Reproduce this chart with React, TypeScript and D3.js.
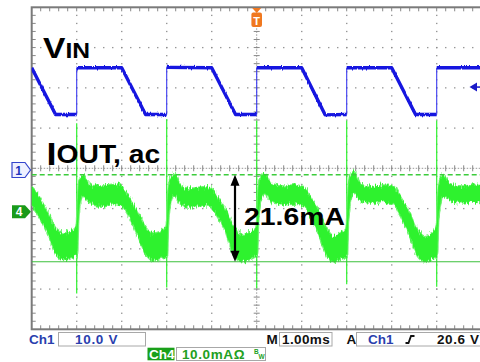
import React from "react";
import * as d3 from "d3";

// ---- Data ----
// Ch1 (VIN), volts, time in ms (1.00 ms/div)
const vinT = [0, 0.53, 1.0, 1.0, 2.0, 2.53, 3.0, 3.0, 4.0, 4.53, 5.0, 5.0, 6.0, 6.52, 7.0, 7.0, 8.0, 8.53, 9.0, 9.0, 10.0];
const vinV = [25.4, 13.8, 13.8, 25.4, 25.4, 13.8, 13.8, 25.5, 25.4, 13.8, 13.8, 25.4, 25.4, 13.7, 13.8, 25.4, 25.4, 13.8, 13.8, 25.4, 25.4];

// Ch4 (IOUT ac), mA: upper and lower edges of the noise band
const ioutT = [
  0, 0.12, 0.33, 0.56, 0.7, 0.85, 0.98,
  1.01, 1.03, 1.07, 1.14, 1.23, 1.36, 1.56, 1.78, 2.0, 2.12, 2.33, 2.56, 2.7, 2.85, 2.98,
  3.01, 3.03, 3.08, 3.18, 3.27, 3.4, 3.6, 3.8, 3.97, 4.1, 4.3, 4.52, 4.68, 4.84, 4.98,
  5.01, 5.03, 5.08, 5.18, 5.28, 5.42, 5.62, 5.82, 6.04, 6.16, 6.36, 6.58, 6.7, 6.85, 6.98,
  7.01, 7.03, 7.08, 7.16, 7.26, 7.4, 7.6, 7.82, 8.04, 8.16, 8.36, 8.58, 8.72, 8.86, 8.98,
  9.01, 9.03, 9.08, 9.15, 9.25, 9.4, 9.6, 9.8, 10.0,
];
const ioutHi = [
  5.9, 4.4, 0.2, -4.6, -5.4, -5.0, -4.0,
  -2.0, 4.0, 8.0, 9.0, 7.5, 6.4, 6.3, 6.7, 6.2, 4.3, 0.3, -4.2, -5.4, -5.0, -4.1,
  -2.0, 4.2, 8.2, 9.4, 7.4, 5.9, 5.8, 6.1, 5.9, 4.0, 0.6, -4.5, -5.8, -5.2, -4.2,
  -2.2, 4.0, 8.3, 9.4, 7.6, 6.4, 6.3, 6.6, 6.2, 4.2, 0.4, -4.8, -6.0, -5.4, -4.2,
  -2.0, 4.4, 8.8, 9.9, 7.8, 6.4, 6.2, 6.5, 6.2, 4.2, 0.4, -4.8, -6.1, -5.6, -4.4,
  -2.0, 4.0, 8.0, 8.9, 7.4, 6.4, 6.3, 6.5, 6.4,
];
const ioutLo = [
  2.0, -0.2, -4.5, -10.8, -12.0, -11.6, -11.0,
  -10.5, -3.0, 2.0, 4.0, 3.0, 1.8, 1.5, 2.0, 1.6, -0.2, -5.0, -10.8, -12.1, -11.5, -11.0,
  -10.6, -3.2, 2.2, 4.4, 2.6, 1.3, 1.3, 1.6, 1.4, -0.6, -4.6, -11.2, -12.3, -11.8, -11.0,
  -10.8, -3.0, 2.4, 4.6, 3.2, 1.9, 1.8, 2.0, 1.7, -0.4, -5.0, -11.2, -12.3, -11.8, -11.0,
  -10.6, -2.8, 2.6, 4.8, 3.4, 2.4, 2.2, 2.4, 2.0, -0.2, -4.8, -11.0, -12.3, -11.9, -11.2,
  -10.5, -3.0, 2.0, 4.2, 3.2, 2.4, 2.3, 2.5, 2.4,
];
// switching spikes on Ch4
const spikeT = [1, 3, 5, 7, 9];
const spikeHi = [22.0, 23.0, 22.7, 22.7, 22.7];
const spikeLo = [-20.3, -18.8, -19.0, -18.0, -18.6];

// cursors (mA) and trigger level (V)
const cursorTop = 9.2;
const cursorBottom = -12.4;
const triggerLevel = 20.6;
const deltaLabel = "21.6mA";

// status bar texts
const ch1Scale = "10.0 V";
const ch4Scale = "10.0mAΩ";
const timeBase = "1.00ms";
const trigText = "20.6 V";

// ---- Geometry ----
const X0 = 31.7, X1 = 481.7, Y0 = 7.3, Y1 = 329.3;
const x = d3.scaleLinear().domain([0, 10]).range([X0, X1]);
const yDiv = d3.scaleLinear().domain([-4, 4]).range([Y1, Y0]);
const ch1Pos = -0.042;
const ch4Pos = -1.08;
const yV = (v: number) => yDiv(v / 10 + ch1Pos);
const yI = (i: number) => yDiv(i / 10 + ch4Pos);

const FONT = "'Liberation Sans', Arial, sans-serif";
const GREEN = "#2ef22e";
const BLUE = "#1414e0";

function Grid() {
  const els: React.ReactNode[] = [];
  const dotColor = "#8c8c8c";
  for (let i = 1; i < 10; i++) {
    if (i === 5) continue;
    for (let k = 1; k < 40; k++) {
      els.push(<rect key={`vd${i}-${k}`} x={x(i) - 0.6} y={yDiv(k / 5 - 4) - 0.6} width={1.3} height={1.3} fill={dotColor} />);
    }
  }
  for (let j = 1; j < 8; j++) {
    if (j === 4) continue;
    for (let k = 1; k < 50; k++) {
      els.push(<rect key={`hd${j}-${k}`} x={x(k / 5) - 0.6} y={yDiv(j - 4) - 0.6} width={1.3} height={1.3} fill={dotColor} />);
    }
  }
  els.push(<line key="cv" x1={x(5)} x2={x(5)} y1={Y0} y2={Y1} stroke="#999" strokeWidth={1} strokeDasharray="1.5,1.5" />);
  els.push(<line key="ch" x1={X0} x2={X1} y1={yDiv(0)} y2={yDiv(0)} stroke="#999" strokeWidth={1} strokeDasharray="1.5,1.5" />);
  for (let k = 1; k < 40; k++) {
    const yy = yDiv(k / 5 - 4);
    els.push(<line key={`ct${k}`} x1={x(5) - 3} x2={x(5) + 3} y1={yy} y2={yy} stroke="#888" strokeWidth={1} />);
    els.push(<line key={`lt${k}`} x1={X0} x2={X0 + 4} y1={yy} y2={yy} stroke="#888" strokeWidth={1} />);
  }
  for (let k = 1; k < 50; k++) {
    const xx = x(k / 5);
    els.push(<line key={`cht${k}`} x1={xx} x2={xx} y1={yDiv(0) - 3} y2={yDiv(0) + 3} stroke="#888" strokeWidth={1} />);
    els.push(<line key={`tt${k}`} x1={xx} x2={xx} y1={Y0} y2={Y0 + 4} stroke="#888" strokeWidth={1} />);
    els.push(<line key={`bt${k}`} x1={xx} x2={xx} y1={Y1 - 4} y2={Y1} stroke="#888" strokeWidth={1} />);
  }
  els.push(<rect key="frame" x={X0} y={Y0} width={X1 - X0} height={Y1 - Y0} fill="none" stroke="#7a7a7a" strokeWidth={2} />);
  return <g>{els}</g>;
}

export default function App() {
  const vinPts = vinT.map((t, i) => [x(t), yV(vinV[i])] as [number, number]);
  const thickSegs: [number, number][][] = [];
  const edges: [number, number][][] = [];
  let cur: [number, number][] = [vinPts[0]];
  for (let i = 1; i < vinPts.length; i++) {
    if (vinT[i] === vinT[i - 1]) {
      thickSegs.push(cur);
      edges.push([vinPts[i - 1], vinPts[i]]);
      cur = [vinPts[i]];
    } else cur.push(vinPts[i]);
  }
  thickSegs.push(cur);
  const line = d3.line();

  const area = d3
    .area<number>()
    .x((i) => x(ioutT[i]))
    .y0((i) => yI(ioutLo[i]))
    .y1((i) => yI(ioutHi[i]))
    .curve(d3.curveMonotoneX);
  const idx = d3.range(ioutT.length);

  const ax = 235;
  const aTop = yI(cursorTop);
  const aBot = yI(cursorBottom);
  const trigY = yV(triggerLevel);

  return (
    <svg width={480} height={362} style={{ position: "fixed", left: 0, top: 0, background: "#fff" }} fontFamily={FONT}>
      <defs>
        <filter id="noiseG" filterUnits="userSpaceOnUse" x={0} y={0} width={480} height={362}>
          <feTurbulence type="fractalNoise" baseFrequency="1.3 0.15" numOctaves={2} seed={3} result="t" />
          <feColorMatrix in="t" type="matrix" values="0 0 0 0 0.5  0 1 0 0 0  0 0 1 0 0  0 0 0 0 1" result="m" />
          <feDisplacementMap in="SourceGraphic" in2="m" scale={10} xChannelSelector="R" yChannelSelector="G" />
        </filter>
        <filter id="noiseB" filterUnits="userSpaceOnUse" x={0} y={0} width={480} height={362}>
          <feTurbulence type="fractalNoise" baseFrequency="1.2 0.1" numOctaves={1} seed={7} result="t" />
          <feColorMatrix in="t" type="matrix" values="0 0 0 0 0.5  0 1 0 0 0  0 0 1 0 0  0 0 0 0 1" result="m" />
          <feDisplacementMap in="SourceGraphic" in2="m" scale={3} xChannelSelector="R" yChannelSelector="G" />
        </filter>
        <clipPath id="plotClip">
          <rect x={X0} y={Y0} width={X1 - X0} height={Y1 - Y0} />
        </clipPath>
      </defs>

      <Grid />

      <g clipPath="url(#plotClip)">
        {spikeT.map((t, i) => (
          <line key={`sp${i}`} x1={x(t)} x2={x(t)} y1={yI(spikeHi[i])} y2={yI(spikeLo[i])} stroke={GREEN} strokeWidth={1.2} />
        ))}
        <g filter="url(#noiseG)">
          <path d={area(idx) || ""} fill="#7df57d" stroke="#7df57d" strokeWidth={2.5} />
          <path d={area(idx) || ""} fill={GREEN} stroke={GREEN} strokeWidth={0.5} />
        </g>
        {edges.map((e, i) => (
          <path key={`e${i}`} d={line(e) || ""} stroke="#3a3af0" strokeWidth={1.1} fill="none" />
        ))}
        <g filter="url(#noiseB)">
          {thickSegs.map((s, i) => (
            <path key={`s${i}`} d={line(s) || ""} stroke={BLUE} strokeWidth={3.4} fill="none" strokeLinejoin="round" />
          ))}
        </g>
        <line x1={X0} x2={X1} y1={aTop} y2={aTop} stroke="#3ccc3c" strokeWidth={1.4} strokeDasharray="5,3" />
        <line x1={X0} x2={X1} y1={aBot} y2={aBot} stroke="#3cc03c" strokeWidth={1.1} />
      </g>

      {/* measurement arrow */}
      <line x1={ax} x2={ax} y1={aTop + 8} y2={aBot - 8} stroke="#000" strokeWidth={2.2} />
      <path d={`M${ax},${aTop} L${ax - 4.5},${aTop + 11} L${ax + 4.5},${aTop + 11} Z`} fill="#000" />
      <path d={`M${ax},${aBot} L${ax - 4.5},${aBot - 11} L${ax + 4.5},${aBot - 11} Z`} fill="#000" />
      <text x={244} y={225} fontSize={24} fontWeight="bold" textLength={101} lengthAdjust="spacingAndGlyphs">{deltaLabel}</text>

      {/* trace labels */}
      <g transform="translate(43,58) scale(1.12,1)">
        <text x={0} y={0} fontWeight="bold">
          <tspan fontSize={30}>V</tspan>
          <tspan fontSize={22}>IN</tspan>
        </text>
      </g>
      <g transform="translate(46.5,165) scale(1.13,1)">
        <text x={0} y={0} fontWeight="bold">
          <tspan fontSize={32}>I</tspan>
          <tspan fontSize={25} dy={-2}>OUT, ac</tspan>
        </text>
      </g>

      {/* channel markers */}
      <path d="M12,162.5 L25,162.5 L30.5,170 L25,177.5 L12,177.5 Z" fill="#eef0ff" stroke="#3344cc" strokeWidth={1.2} />
      <text x={18.5} y={174.5} fontSize={12} fontWeight="bold" fill="#2233bb" textAnchor="middle">1</text>
      <path d={`M12,${yI(0) - 6.5} L25,${yI(0) - 6.5} L31,${yI(0)} L25,${yI(0) + 6.5} L12,${yI(0) + 6.5} Z`} fill="#1a9a1a" />
      <text x={19} y={yI(0) + 4.5} fontSize={12} fontWeight="bold" fill="#fff" textAnchor="middle">4</text>

      {/* trigger position marker */}
      <path d={`M${x(5) - 4.5},8 L${x(5) + 4.5},8 L${x(5)},13 Z`} fill="#f07820" />
      <rect x={x(5) - 5.3} y={12.5} width={10.6} height={14.5} rx={2} fill="#f07820" />
      <text x={x(5)} y={24.5} fontSize={11} fontWeight="bold" fill="#fff" textAnchor="middle">T</text>

      {/* trigger level arrow */}
      <path d={`M469.5,${trigY} L477,${trigY - 4.5} L477,${trigY + 4.5} Z`} fill="#1a1ac8" />
      <line x1={476} x2={480} y1={trigY} y2={trigY} stroke="#1a1ac8" strokeWidth={1.5} />

      {/* status bar */}
      <g fontSize={13.5} fontWeight="bold">
        <text x={29} y={343.5} fill="#2a3fae">Ch1</text>
        <rect x={58.5} y={332.5} width={87} height={13.5} fill="#fff" stroke="#a8a8a8" />
        <text x={75} y={343.5} fill="#2a3fae" letterSpacing={0.7}>{ch1Scale}</text>
        <text x={266.5} y={343.5} fill="#111">M</text>
        <rect x={279.5} y={332.5} width={52.5} height={13.5} fill="#fff" stroke="#a8a8a8" />
        <text x={282} y={343.5} fill="#111" letterSpacing={0.4}>{timeBase}</text>
        <text x={346.5} y={343.5} fill="#111">A</text>
        <rect x={356.5} y={332.5} width={130} height={13.5} fill="#fff" stroke="#a8a8a8" />
        <text x={368} y={343.5} fill="#2a3fae">Ch1</text>
        <path d="M405.5,343 L408.5,343 L411,336 L414.5,336" stroke="#111" strokeWidth={1.8} fill="none" />
        <text x={437} y={343.5} fill="#111" letterSpacing={0.6}>{trigText}</text>
        <rect x={147.5} y={347.7} width={27} height={12.6} fill="#1aa01a" />
        <text x={149} y={358.5} fill="#fff">Ch4</text>
        <rect x={176.5} y={347.5} width={89} height={13} fill="#fff" stroke="#a8a8a8" />
        <text x={182} y={358.5} fill="#22a022" letterSpacing={0.6}>{ch4Scale}</text>
        <text x={254} y={354} fill="#22a022" fontSize={6.5}>B</text>
        <text x={258.5} y={358.5} fill="#22a022" fontSize={6.5}>W</text>
      </g>
    </svg>
  );
}
